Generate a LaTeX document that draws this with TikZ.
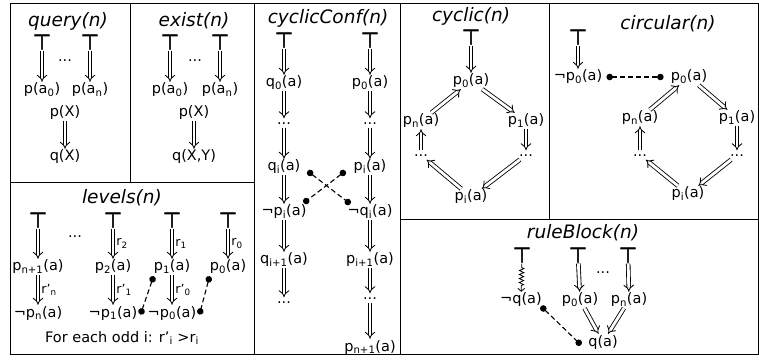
\documentclass[tikz,border=0pt]{standalone}
\usepackage{fontspec}
\setmainfont{DejaVu Sans}
\newfontfamily\topfont[FakeBold=3]{DejaVu Sans}
\usetikzlibrary{arrows.meta,decorations.pathmorphing,calc}
\newcommand\sbs[1]{\textsubscript{#1}}
\begin{document}
\begin{tikzpicture}[x=1pt,y=-1pt,
  every node/.style={font=\fontsize{14.5}{16}\selectfont, inner sep=1pt},
  ttl/.style={font=\fontsize{18.5}{20}\selectfont\itshape},
  topn/.style={font=\fontsize{21}{21}\topfont, inner sep=1pt},
  dotn/.style={text height=3pt, text depth=0pt, inner sep=3pt},
  imp/.style={double, double distance=2.8pt, line width=0.85pt, -{Implies[scale=1.5]}},
  dcon/.style={dash pattern=on 5pt off 3pt, line width=1.1pt, {Circle[length=6.5pt]}-{Circle[length=6.5pt]}},
  lab/.style={font=\fontsize{12.5}{13}\selectfont, inner sep=1pt, right=2pt},
  frame/.style={line width=1pt}]
\useasboundingbox (0,0) rectangle (759,359);
% frames
\draw[frame] (10.5,3) rectangle (758,354.5);
\draw[frame] (130,3) -- (130,182);
\draw[frame] (10.5,182) -- (254,182);
\draw[frame] (254,3) -- (254,354.5);
\draw[frame] (400,3) -- (400,354.5);
\draw[frame] (400,219.5) -- (758,219.5);
\draw[frame] (549,3) -- (549,219.5);

% query
\node[ttl] (qtitle) at (68,21) {query(n)};
\node[topn] (qT0) at (42,42) {⊤};
\node[topn] (qT1) at (90,42) {⊤};
\node[dotn] (qdots) at (65,60) {...};
\node (qa0) at (42,90) {p(a\sbs{0})};
\node (qan) at (90,90) {p(a\sbs{n})};
\node (qpX) at (65,113) {p(X)};
\node (qqX) at (65,157) {q(X)};
\draw[imp] (qT0) -- (qa0);
\draw[imp] (qT1) -- (qan);
\draw[imp] (qpX) -- (qqX);

% exist
\node[ttl] (etitle) at (194,21) {exist(n)};
\node[topn] (eT0) at (170,42) {⊤};
\node[topn] (eT1) at (220,42) {⊤};
\node[dotn] (edots) at (195,60) {...};
\node (ea0) at (170,90) {p(a\sbs{0})};
\node (ean) at (220,90) {p(a\sbs{n})};
\node (epX) at (194,113) {p(X)};
\node (eqXY) at (194,157) {q(X,Y)};
\draw[imp] (eT0) -- (ea0);
\draw[imp] (eT1) -- (ean);
\draw[imp] (epX) -- (eqXY);

% levels
\node[ttl] (ltitle) at (122,198) {levels(n)};
\node[topn] (lT1) at (38,220) {⊤};
\node[topn] (lT2) at (113,220) {⊤};
\node[topn] (lT3) at (172,220) {⊤};
\node[topn] (lT4) at (228,220) {⊤};
\node[dotn] (ldots) at (75,236) {...};
\node (lp1) at (38,267) {p\sbs{n+1}(a)};
\node (lp2) at (113,267) {p\sbs{2}(a)};
\node (lp3) at (172,267) {p\sbs{1}(a)};
\node (lp4) at (228,267) {p\sbs{0}(a)};
\node (ln1) at (38,313) {¬p\sbs{n}(a)};
\node (ln2) at (113,313) {¬p\sbs{1}(a)};
\node (ln3) at (172,313) {¬p\sbs{0}(a)};
\draw[imp] (lT1) -- (lp1);
\draw[imp] (lT2) -- node[lab] {r\sbs{2}} (lp2);
\draw[imp] (lT3) -- node[lab] {r\sbs{1}} (lp3);
\draw[imp] (lT4) -- node[lab] {r\sbs{0}} (lp4);
\draw[imp] (lp1) -- node[lab] {r'\sbs{n}} (ln1);
\draw[imp] (lp2) -- node[lab] {r'\sbs{1}} (ln2);
\draw[imp] (lp3) -- node[lab] {r'\sbs{0}} (ln3);
\draw[dcon] ($(lp3.south west)+(1,1)$) -- ($(ln2.east)+(2,1.5)$);
\draw[dcon] ($(lp4.south west)+(1,1)$) -- ($(ln3.east)+(2,1.5)$);
\node (lnote) at (122,338) {For each odd i: r'\sbs{i} >r\sbs{i}};

% cyclicConf
\node[ttl] (ctitle) at (328,18) {cyclicConf(n)};
\node[topn] (cT1) at (284,40) {⊤};
\node[topn] (cT2) at (370,40) {⊤};
\node (cq0) at (284,83) {q\sbs{0}(a)};
\node (cp0) at (370,83) {p\sbs{0}(a)};
\node[dotn] (cd1) at (284,123) {...};
\node[dotn] (cd2) at (370,123) {...};
\node (cqi) at (284,167) {q\sbs{i}(a)};
\node (cpi) at (370,167) {p\sbs{i}(a)};
\node (cnpi) at (284,212) {¬p\sbs{i}(a)};
\node (cnqi) at (370,212) {¬q\sbs{i}(a)};
\node (cqi1) at (284,260) {q\sbs{i+1}(a)};
\node (cpi1) at (370,260) {p\sbs{i+1}(a)};
\node[dotn] (cd3) at (284,302) {...};
\node[dotn] (cd4) at (370,298) {...};
\node (cpn1) at (370,347) {p\sbs{n+1}(a)};
\draw[imp] (cT1) -- (cq0);
\draw[imp] (cq0) -- (cd1);
\draw[imp] (cd1) -- (cqi);
\draw[imp] (cqi) -- (cnpi);
\draw[imp] (cnpi) -- (cqi1);
\draw[imp] (cqi1) -- (cd3);
\draw[imp] (cT2) -- (cp0);
\draw[imp] (cp0) -- (cd2);
\draw[imp] (cd2) -- (cpi);
\draw[imp] (cpi) -- (cnqi);
\draw[imp] (cnqi) -- (cpi1);
\draw[imp] (cpi1) -- (cd4);
\draw[imp] (cd4) -- (cpn1);
\draw[dcon] ($(cqi.east)+(6,4)$) -- ($(cnqi.west)+(4,-8)$);
\draw[dcon] ($(cpi.west)+(-7,4)$) -- ($(cnpi.east)+(-4,-9)$);

% cyclic
\node[ttl] (ytitle) at (471,16) {cyclic(n)};
\node[topn] (yT) at (471,37) {⊤};
\node (yp0) at (471,81) {p\sbs{0}(a)};
\node (yp1) at (526,121) {p\sbs{1}(a)};
\node (ypn) at (421,121) {p\sbs{n}(a)};
\node[dotn] (yd1) at (526,155) {...};
\node[dotn] (yd2) at (421,155) {...};
\node (ypi) at (471,197) {p\sbs{i}(a)};
\draw[imp] (yT) -- (yp0);
\draw[imp] (yp0) -- (yp1);
\draw[imp] (yp1) -- (yd1);
\draw[imp] (yd1) -- (ypi);
\draw[imp] (ypi) -- (yd2);
\draw[imp] (yd2) -- (ypn);
\draw[imp] (ypn) -- (yp0);

% circular
\node[ttl] (ztitle) at (668,24) {circular(n)};
\node[topn] (zT) at (578,37) {⊤};
\node (znp0) at (578,77) {¬p\sbs{0}(a)};
\node (zp0) at (689,77) {p\sbs{0}(a)};
\node (zpn) at (640,118) {p\sbs{n}(a)};
\node (zp1) at (737,118) {p\sbs{1}(a)};
\node[dotn] (zd1) at (737,155) {...};
\node[dotn] (zd2) at (640,155) {...};
\node (zpi) at (688,194) {p\sbs{i}(a)};
\draw[imp] (zT) -- (znp0);
\draw[imp] (zp0) -- (zp1);
\draw[imp] (zp1) -- (zd1);
\draw[imp] (zd1) -- (zpi);
\draw[imp] (zpi) -- (zd2);
\draw[imp] (zd2) -- (zpn);
\draw[imp] (zpn) -- (zp0);
\draw[dcon] ($(znp0.east)+(3,0)$) -- ($(zp0.west)+(-6,0)$);

% ruleBlock
\node[ttl] (rtitle) at (583,233) {ruleBlock(n)};
\node[topn] (rT1) at (522,255) {⊤};
\node[topn] (rT2) at (578,255) {⊤};
\node[topn] (rT3) at (628,255) {⊤};
\node[dotn] (rdots) at (603,272) {...};
\node (rnq) at (521,300) {¬q(a)};
\node (rp0) at (580,300) {p\sbs{0}(a)};
\node (rpn) at (629,300) {p\sbs{n}(a)};
\node (rq) at (603,342) {q(a)};
\draw[line width=0.8pt, decorate, decoration={zigzag, amplitude=2.2pt, segment length=4pt, pre length=4pt, post length=5pt}, -{Straight Barb[length=3pt,width=7pt]}] (rT1) -- (rnq);
\draw[imp] (rT2) -- (rp0);
\draw[imp] (rT3) -- (rpn);
\draw[imp] (rp0) -- (rq);
\draw[imp] (rpn) -- (rq);
\draw[dcon] ($(rnq.south east)+(-2,-2)$) -- ($(rq.west)+(-6,3)$);
\end{tikzpicture}
\end{document}
